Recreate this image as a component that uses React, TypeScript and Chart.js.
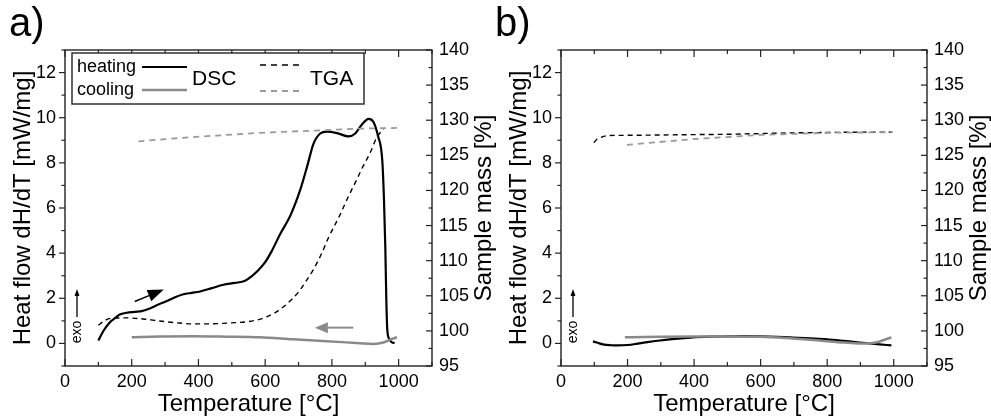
import React, { useEffect, useRef } from "react";
import { Chart, registerables } from "chart.js";

Chart.register(...registerables);

const FONT = '"Liberation Sans", Arial, Helvetica, sans-serif';

// ---------- Panel a data ----------
const aHeatDscT = [100, 115, 134, 150, 164, 185, 210, 230, 254, 280, 305, 330, 355, 380, 405, 440, 475, 510, 540, 560, 580, 600, 620, 645, 675, 705, 725, 745, 765, 785, 815, 850, 870, 890, 910, 925, 938, 951, 956, 960, 963, 966, 972, 980, 988];
const aHeatDscV = [0.13, 0.55, 0.93, 1.12, 1.28, 1.36, 1.4, 1.43, 1.55, 1.72, 1.88, 2.05, 2.18, 2.24, 2.3, 2.45, 2.6, 2.68, 2.78, 2.98, 3.25, 3.6, 4.1, 4.85, 5.65, 6.8, 7.8, 8.85, 9.3, 9.38, 9.32, 9.17, 9.3, 9.7, 9.95, 9.8, 9.2, 8.1, 6.4, 4.3, 2.0, 0.6, 0.2, 0.05, 0.02];

const aCoolDscT = [200, 284, 384, 484, 584, 684, 784, 884, 924, 954, 980, 995];
const aCoolDscV = [0.27, 0.31, 0.32, 0.3, 0.27, 0.18, 0.1, 0.01, -0.02, 0.04, 0.2, 0.28];

const aHeatTgaT = [100, 120, 140, 184, 234, 284, 334, 384, 434, 484, 544, 580, 604, 630, 654, 680, 704, 724, 744, 770, 790, 824, 850, 874, 894, 914, 934, 955];
const aHeatTgaV = [100.8, 101.5, 101.8, 101.85, 101.7, 101.4, 101.15, 101.0, 101.0, 101.1, 101.3, 101.6, 102.0, 102.6, 103.4, 104.5, 105.8, 107.2, 108.7, 111.1, 113.3, 116.5, 119.2, 121.5, 123.5, 125.3, 127.5, 128.8];

const aCoolTgaT = [220, 300, 384, 484, 584, 684, 784, 884, 995];
const aCoolTgaV = [127.0, 127.3, 127.6, 127.9, 128.2, 128.4, 128.6, 128.8, 128.9];

// ---------- Panel b data ----------
const bHeatDscT = [96, 110, 126, 150, 170, 200, 230, 260, 297, 350, 396, 450, 498, 550, 597, 650, 696, 750, 798, 850, 897, 950, 993];
const bHeatDscV = [0.09, 0.03, -0.04, -0.08, -0.09, -0.07, -0.01, 0.06, 0.13, 0.21, 0.27, 0.3, 0.31, 0.32, 0.31, 0.29, 0.26, 0.22, 0.18, 0.11, 0.04, -0.03, -0.09];

const bCoolDscT = [192, 250, 297, 400, 498, 600, 696, 750, 798, 850, 897, 930, 950, 970, 993];
const bCoolDscV = [0.27, 0.29, 0.3, 0.31, 0.31, 0.3, 0.22, 0.16, 0.1, 0.04, 0.0, 0.01, 0.05, 0.15, 0.27];

const bHeatTgaT = [99, 108, 117, 138, 200, 297, 400, 498, 600, 696, 800, 900, 996];
const bHeatTgaV = [126.8, 127.3, 127.5, 127.8, 127.85, 127.9, 127.95, 128.0, 128.1, 128.2, 128.25, 128.3, 128.3];

const bCoolTgaT = [198, 297, 396, 498, 597, 700, 798, 900, 996];
const bCoolTgaV = [126.5, 126.9, 127.3, 127.6, 127.9, 128.05, 128.2, 128.25, 128.3];

// ---------- Axes ----------
const xRange = [0, 1100];
const xTickValues = [0, 200, 400, 600, 800, 1000];
const xMinorValues = [100, 300, 500, 700, 900, 1100];
const yRange = [-1, 13];
const yTickValues = [0, 2, 4, 6, 8, 10, 12];
const yMinorValues = [-1, 1, 3, 5, 7, 9, 11, 13];
const y1Range = [95, 140];
const y1TickValues = [95, 100, 105, 110, 115, 120, 125, 130, 135, 140];
const y1MinorValues = [97.5, 102.5, 107.5, 112.5, 117.5, 122.5, 127.5, 132.5, 137.5];

// annotation arrows (data coordinates)
const heatArrow = { from: [209, 1.86], to: [296, 2.39] };
const coolArrow = { from: [864, 0.7], to: [749, 0.7] };

const xTitle = "Temperature [°C]";
const yTitle = "Heat flow dH/dT [mW/mg]";
const y1Title = "Sample mass [%]";

const BLACK = "#000";
const GRAY = "#8a8a8a";
const GRAY_D = "#9a9a9a";
const FRAME = "#222";
const TITLE_SIZE = 24;
const TICK_SIZE = 18;

function pts(xs: number[], ys: number[]) {
  return xs.map((x, i) => ({ x, y: ys[i] }));
}

function drawArrow(ctx: CanvasRenderingContext2D, x1: number, y1: number, x2: number, y2: number, color: string, lw: number, headLen: number, headW: number) {
  const ang = Math.atan2(y2 - y1, x2 - x1);
  const bx = x2 - headLen * Math.cos(ang);
  const by = y2 - headLen * Math.sin(ang);
  ctx.save();
  ctx.strokeStyle = color;
  ctx.fillStyle = color;
  ctx.lineWidth = lw;
  ctx.beginPath();
  ctx.moveTo(x1, y1);
  ctx.lineTo(bx, by);
  ctx.stroke();
  const nx = -Math.sin(ang) * headW / 2;
  const ny = Math.cos(ang) * headW / 2;
  ctx.beginPath();
  ctx.moveTo(x2, y2);
  ctx.lineTo(bx + nx, by + ny);
  ctx.lineTo(bx - nx, by - ny);
  ctx.closePath();
  ctx.fill();
  ctx.restore();
}

function line(ctx: CanvasRenderingContext2D, x1: number, y1: number, x2: number, y2: number) {
  ctx.beginPath();
  ctx.moveTo(x1, y1);
  ctx.lineTo(x2, y2);
  ctx.stroke();
}

const framePlugin = {
  id: "frameTicks",
  afterDraw(chart: any) {
    const { ctx, chartArea } = chart;
    const { left, right, top, bottom } = chartArea;
    const sx = chart.scales.x, sy = chart.scales.y, sy1 = chart.scales.y1;
    ctx.save();
    ctx.strokeStyle = FRAME;
    ctx.lineWidth = 1.4;
    ctx.strokeRect(left, top, right - left, bottom - top);
    ctx.lineWidth = 1.2;
    xTickValues.forEach((v) => {
      const p = sx.getPixelForValue(v);
      line(ctx, p, bottom, p, bottom - 7);
      line(ctx, p, top, p, top + 7);
    });
    xMinorValues.forEach((v) => {
      const p = sx.getPixelForValue(v);
      line(ctx, p, bottom, p, bottom - 4);
      line(ctx, p, top, p, top + 4);
    });
    yTickValues.forEach((v) => {
      const p = sy.getPixelForValue(v);
      line(ctx, left, p, left - 6, p);
    });
    yMinorValues.forEach((v) => {
      const p = sy.getPixelForValue(v);
      line(ctx, left, p, left - 3.5, p);
    });
    y1TickValues.forEach((v) => {
      const p = sy1.getPixelForValue(v);
      line(ctx, right, p, right - 6, p);
    });
    y1MinorValues.forEach((v) => {
      const p = sy1.getPixelForValue(v);
      line(ctx, right, p, right - 3.5, p);
    });
    // right title (reads bottom-to-top)
    ctx.fillStyle = "#000";
    ctx.font = `${TITLE_SIZE}px ${FONT}`;
    ctx.textAlign = "center";
    ctx.textBaseline = "middle";
    ctx.translate(right + 52, (top + bottom) / 2);
    ctx.rotate(-Math.PI / 2);
    ctx.fillText(y1Title, 0, 0);
    ctx.restore();

    // exo marker
    ctx.save();
    const ex = left + 12;
    drawArrow(ctx, ex, bottom - 49, ex, bottom - 77, "#000", 1.3, 7, 5);
    ctx.fillStyle = "#000";
    ctx.font = `14px ${FONT}`;
    ctx.textAlign = "center";
    ctx.textBaseline = "middle";
    ctx.translate(ex, bottom - 34);
    ctx.rotate(-Math.PI / 2);
    ctx.fillText("exo", 0, 0);
    ctx.restore();
  },
};

const annotPlugin = {
  id: "annotA",
  afterDraw(chart: any) {
    const { ctx, chartArea } = chart;
    const sx = chart.scales.x, sy = chart.scales.y;
    drawArrow(ctx, sx.getPixelForValue(heatArrow.from[0]), sy.getPixelForValue(heatArrow.from[1]), sx.getPixelForValue(heatArrow.to[0]), sy.getPixelForValue(heatArrow.to[1]), BLACK, 1.5, 16, 12);
    drawArrow(ctx, sx.getPixelForValue(coolArrow.from[0]), sy.getPixelForValue(coolArrow.from[1]), sx.getPixelForValue(coolArrow.to[0]), sy.getPixelForValue(coolArrow.to[1]), GRAY, 2, 13, 11);

    const L = chartArea.left, T = chartArea.top;
    ctx.save();
    ctx.fillStyle = "#fff";
    ctx.strokeStyle = FRAME;
    ctx.lineWidth = 1.4;
    ctx.fillRect(L + 7, T + 3, 292, 51);
    ctx.strokeRect(L + 7, T + 3, 292, 51);
    ctx.fillStyle = "#000";
    ctx.textBaseline = "middle";
    ctx.textAlign = "left";
    ctx.font = `18px ${FONT}`;
    ctx.fillText("heating", L + 12, T + 17);
    ctx.fillText("cooling", L + 12, T + 40);
    ctx.font = `21px ${FONT}`;
    ctx.fillText("DSC", L + 127, T + 29);
    ctx.fillText("TGA", L + 245, T + 29);
    ctx.strokeStyle = BLACK;
    ctx.lineWidth = 2.2;
    line(ctx, L + 77, T + 17, L + 122, T + 17);
    ctx.strokeStyle = GRAY;
    ctx.lineWidth = 2.5;
    line(ctx, L + 77, T + 40, L + 122, T + 40);
    ctx.setLineDash([6, 5]);
    ctx.strokeStyle = BLACK;
    ctx.lineWidth = 1.4;
    line(ctx, L + 195, T + 15, L + 239, T + 15);
    ctx.strokeStyle = GRAY_D;
    ctx.lineWidth = 1.8;
    line(ctx, L + 195, T + 41, L + 239, T + 41);
    ctx.restore();
  },
};

function buildConfig(panel: "a" | "b", leftW: number, rightW: number, titlePad: number) {
  const isA = panel === "a";
  const datasets = [
    {
      data: isA ? pts(aCoolTgaT, aCoolTgaV) : pts(bCoolTgaT, bCoolTgaV),
      borderColor: GRAY_D, borderWidth: 1.8, borderDash: [6, 5], yAxisID: "y1",
    },
    {
      data: isA ? pts(aHeatTgaT, aHeatTgaV) : pts(bHeatTgaT, bHeatTgaV),
      borderColor: BLACK, borderWidth: 1.4, borderDash: [5, 4], yAxisID: "y1",
    },
    {
      data: isA ? pts(aCoolDscT, aCoolDscV) : pts(bCoolDscT, bCoolDscV),
      borderColor: GRAY, borderWidth: 2.5, yAxisID: "y",
    },
    {
      data: isA ? pts(aHeatDscT, aHeatDscV) : pts(bHeatDscT, bHeatDscV),
      borderColor: BLACK, borderWidth: 2.2, yAxisID: "y",
    },
  ].map((d) => ({ ...d, pointRadius: 0, fill: false, cubicInterpolationMode: "monotone" as const }));

  const tickFont = { family: FONT, size: TICK_SIZE };
  const titleFont = { family: FONT, size: TITLE_SIZE };
  const fmt = (v: any) => String(v);

  return {
    type: "line" as const,
    data: { datasets },
    options: {
      animation: false as const,
      responsive: false,
      maintainAspectRatio: false,
      devicePixelRatio: 1,
      layout: { padding: { top: 50, left: 0, right: 0, bottom: 0 } },
      plugins: { legend: { display: false }, tooltip: { enabled: false } },
      events: [],
      scales: {
        x: {
          type: "linear" as const,
          min: xRange[0], max: xRange[1],
          grid: { display: false, drawTicks: false },
          border: { display: false },
          afterBuildTicks: (s: any) => { s.ticks = xTickValues.map((v) => ({ value: v })); },
          afterFit: (s: any) => { s.height = 53; },
          ticks: { font: tickFont, color: "#000", padding: 5, maxRotation: 0, autoSkip: false, callback: fmt },
          title: { display: true, text: xTitle, font: titleFont, color: "#000", padding: { top: 0, bottom: 0 } },
        },
        y: {
          type: "linear" as const, position: "left" as const,
          min: yRange[0], max: yRange[1],
          grid: { display: false, drawTicks: false },
          border: { display: false },
          afterBuildTicks: (s: any) => { s.ticks = yTickValues.map((v) => ({ value: v })); },
          afterFit: (s: any) => { s.width = leftW; },
          ticks: { font: tickFont, color: "#000", padding: 9, autoSkip: false, callback: fmt },
          title: { display: true, text: yTitle, font: titleFont, color: "#000", padding: { top: titlePad, bottom: 0 } },
        },
        y1: {
          type: "linear" as const, position: "right" as const,
          min: y1Range[0], max: y1Range[1],
          grid: { display: false, drawTicks: false },
          border: { display: false },
          afterBuildTicks: (s: any) => { s.ticks = y1TickValues.map((v) => ({ value: v })); },
          afterFit: (s: any) => { s.width = rightW; },
          ticks: { font: tickFont, color: "#000", padding: 7, autoSkip: false, callback: fmt },
          title: { display: false },
        },
      },
    },
    plugins: isA ? [framePlugin, annotPlugin] : [framePlugin],
  };
}

export default function App() {
  const refA = useRef<HTMLCanvasElement>(null);
  const refB = useRef<HTMLCanvasElement>(null);
  useEffect(() => {
    const ca = new Chart(refA.current as HTMLCanvasElement, buildConfig("a", 65, 68, 9) as any);
    const cb = new Chart(refB.current as HTMLCanvasElement, buildConfig("b", 71, 64, 15) as any);
    return () => {
      ca.destroy();
      cb.destroy();
    };
  }, []);
  const labelStyle: React.CSSProperties = {
    position: "absolute", top: 0, fontFamily: FONT, fontSize: 40, lineHeight: "44px", color: "#000",
  };
  return (
    <div style={{ position: "fixed", left: 0, top: 0, width: 991, height: 419, background: "#fff", overflow: "hidden" }}>
      <canvas ref={refA} width={500} height={419} style={{ position: "absolute", left: 0, top: 0, width: 500, height: 419 }} />
      <canvas ref={refB} width={501} height={419} style={{ position: "absolute", left: 490, top: 0, width: 501, height: 419 }} />
      <div style={{ ...labelStyle, left: 9 }}>a)</div>
      <div style={{ ...labelStyle, left: 495 }}>b)</div>
    </div>
  );
}
